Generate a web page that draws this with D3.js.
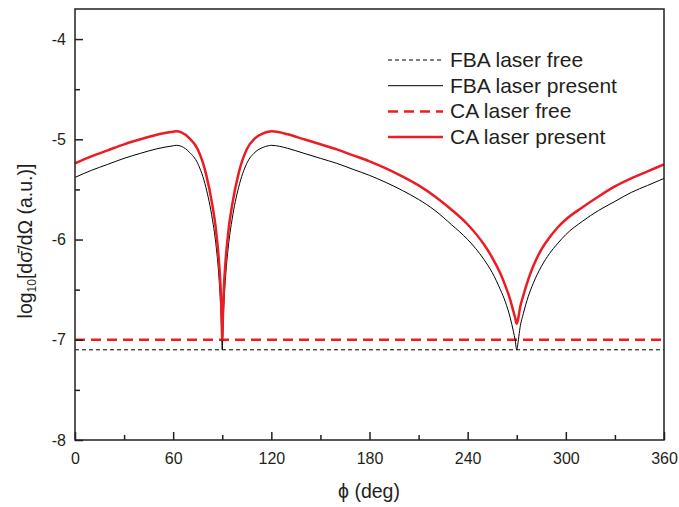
<!DOCTYPE html>
<html>
<head>
<meta charset="utf-8">
<script src="https://cdn.jsdelivr.net/npm/d3@7"></script>
<style>
  body { margin: 0; background: #fff; }
  text { font-family: "Liberation Sans", Arial, sans-serif; fill: #231f20; }
</style>
</head>
<body>
<svg id="canvas" width="679" height="507"></svg>
<script>
// angle grid (deg)
let phi = [0,10,20,30,40,50,55,60,62,65,70,75,80,84,86,88,89,89.5,90,90.5,91,92,94,96,100,105,110,115,118,120,
  125,130,140,150,160,170,180,190,200,210,220,230,240,250,255,260,263,266,268,269,270,271,272,274,277,280,285,290,
  295,300,310,320,330,340,350,360]

// CA laser present
let caPresent = [-5.24,-5.17,-5.11,-5.05,-5.00,-4.955,-4.938,-4.925,-4.92,-4.93,-4.99,-5.10,-5.34,-5.66,-5.88,-6.22,-6.48,-6.70,-7.00,-6.70,-6.48,-6.22,-5.88,-5.66,-5.34,-5.10,-4.99,-4.94,-4.925,-4.92,
  -4.93,-4.95,-5.00,-5.05,-5.10,-5.16,-5.22,-5.29,-5.37,-5.46,-5.57,-5.70,-5.85,-6.05,-6.18,-6.34,-6.46,-6.60,-6.72,-6.78,-6.84,-6.78,-6.68,-6.56,-6.40,-6.27,-6.10,-5.98,
  -5.88,-5.80,-5.68,-5.57,-5.47,-5.39,-5.32,-5.25]

// FBA laser present
let fbaPresent = [-5.38,-5.31,-5.25,-5.19,-5.14,-5.095,-5.078,-5.065,-5.06,-5.07,-5.13,-5.24,-5.48,-5.80,-6.03,-6.38,-6.65,-6.85,-7.10,-6.85,-6.65,-6.38,-6.03,-5.80,-5.48,-5.24,-5.13,-5.08,-5.065,-5.06,
  -5.07,-5.09,-5.14,-5.19,-5.24,-5.30,-5.36,-5.43,-5.51,-5.60,-5.71,-5.85,-6.00,-6.20,-6.33,-6.50,-6.62,-6.78,-6.92,-7.00,-7.10,-7.00,-6.88,-6.74,-6.57,-6.44,-6.27,-6.14,
  -6.04,-5.95,-5.82,-5.71,-5.62,-5.53,-5.46,-5.39]

// laser free (flat)
let caFree = -7.0
let fbaFree = -7.1

let xTicks = [0,60,120,180,240,300,360]
let yTicks = [-8,-7,-6,-5,-4]
let legendNames = ['FBA laser free','FBA laser present','CA laser free','CA laser present']

let red = '#ec1c24'
let svg = d3.select('#canvas')
let mLeft = 75, mRight = 664, mTop = 9, mBottom = 440

let x = d3.scaleLinear().domain([0,360]).range([mLeft,mRight])
let y = d3.scaleLinear().domain([-8,-3.7]).range([mBottom,mTop])

let g = svg.append('g')

// free lines
g.append('line')
  .attr('x1', x(0)).attr('x2', x(360))
  .attr('y1', y(fbaFree)).attr('y2', y(fbaFree))
  .attr('stroke', '#000').attr('stroke-width', 1)
  .attr('stroke-dasharray', '4,3')
g.append('line')
  .attr('x1', x(0)).attr('x2', x(360))
  .attr('y1', y(caFree)).attr('y2', y(caFree))
  .attr('stroke', red).attr('stroke-width', 2.5)
  .attr('stroke-dasharray', '10,6')

let line = d3.line().curve(d3.curveMonotoneX)

g.append('path')
  .attr('d', line(phi.map((p,i)=>[x(p), y(fbaPresent[i])])))
  .attr('fill','none').attr('stroke','#000').attr('stroke-width',1)
g.append('path')
  .attr('d', line(phi.map((p,i)=>[x(p), y(caPresent[i])])))
  .attr('fill','none').attr('stroke',red).attr('stroke-width',2.5)

// axes, ticks pointing inward
let xAxis = d3.axisBottom(x).tickValues(d3.range(0,361,30)).tickSizeInner(-5).tickSizeOuter(0)
  .tickFormat(d => xTicks.includes(d) ? d : '')
let gx = svg.append('g').attr('transform', `translate(0,${mBottom})`).call(xAxis)
gx.selectAll('.tick line').attr('y2', d => xTicks.includes(d) ? -8 : -5)
gx.selectAll('.tick text').attr('y', 13).style('font-size','16px')

let yAxis = d3.axisLeft(y).tickValues(d3.range(-8,-3.9,0.5)).tickSizeInner(-5).tickSizeOuter(0)
  .tickFormat(d => yTicks.includes(d) ? d : '')
let gy = svg.append('g').attr('transform', `translate(${mLeft},0)`).call(yAxis)
gy.selectAll('.tick line').attr('x2', d => yTicks.includes(d) ? 8 : 5)
gy.selectAll('.tick text').attr('x', -9).style('font-size','16px')

svg.selectAll('.domain').remove()
svg.selectAll('.tick line').attr('stroke','#231f20').attr('stroke-width',1.5)

svg.append('rect')
  .attr('x', mLeft).attr('y', mTop).attr('width', mRight-mLeft).attr('height', mBottom-mTop)
  .attr('fill','none').attr('stroke','#231f20').attr('stroke-width',1.5)

// legend
let legendStyles = [
  {c:'#000', w:1, d:'4,3'},
  {c:'#000', w:1, d:null},
  {c:red, w:2.5, d:'10,6'},
  {c:red, w:2.5, d:null}
]
legendNames.forEach((name,i)=>{
  let ly = 60 + i*25.7
  svg.append('line').attr('x1',388).attr('x2',443).attr('y1',ly).attr('y2',ly)
    .attr('stroke',legendStyles[i].c).attr('stroke-width',legendStyles[i].w)
    .attr('stroke-dasharray',legendStyles[i].d)
  svg.append('text').attr('x',450).attr('y',ly+7).style('font-size','21px').text(name)
})

// axis titles
svg.append('text').attr('x', 369).attr('y', 498).attr('text-anchor','middle')
  .style('font-size','19.5px').text('\u03d5 (deg)')

let yt = svg.append('text').attr('transform','translate(32,241) rotate(-90)')
  .attr('text-anchor','middle').style('font-size','19.5px')
yt.append('tspan').text('log')
yt.append('tspan').attr('baseline-shift','-30%').style('font-size','12px').text('10')
yt.append('tspan').text('[d\u03c3\u0304/d\u03a9 (a.u.)]')
</script>
</body>
</html>
